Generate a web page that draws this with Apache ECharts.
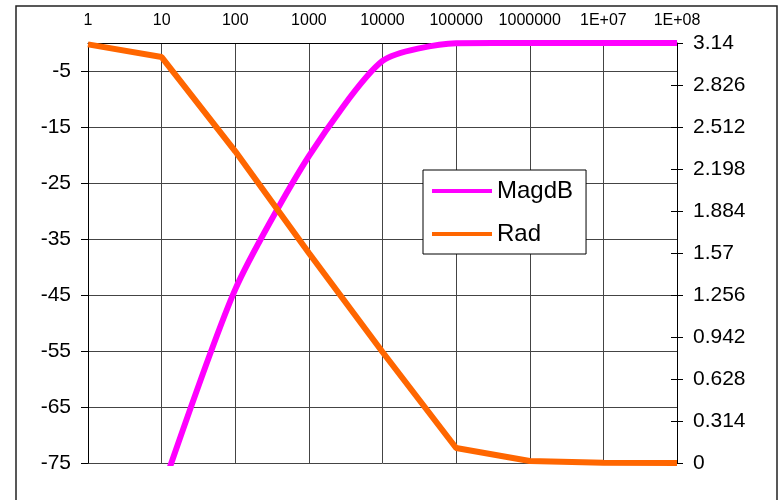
<!DOCTYPE html>
<html>
<head>
<meta charset="utf-8">
<script src="https://cdn.jsdelivr.net/npm/echarts@6/dist/echarts.min.js"></script>
<style>
html,body{margin:0;padding:0;background:#fff;}
#chart{width:783px;height:500px;}
</style>
</head>
<body>
<div id="chart"></div>
<script>
// ---- data ----
var frequencies = [1, 10, 100, 1000, 10000, 100000, 1000000, 10000000, 100000000];
var xTickLabels = ['1', '10', '100', '1000', '10000', '100000', '1000000', '1E+07', '1E+08'];
var magdB = [-120, -80, -44, -20.2, -3.2, -0.05, 0, 0, 0];
var rad = [3.13, 3.035, 2.33, 1.57, 0.83, 0.112, 0.015, 0.0015, 0];
var seriesNames = ['MagdB', 'Rad'];

var FONT = '"Liberation Sans", Arial, sans-serif';
var chart = echarts.init(document.getElementById('chart'), null, {renderer: 'canvas'});

function pairs(xs, ys) {
  return xs.map(function (x, i) { return [x, ys[i]]; });
}

var option = {
  backgroundColor: '#ffffff',
  animation: false,
  grid: {left: 88, top: 43, right: 106, bottom: 37, containLabel: false},
  graphic: [{
    type: 'rect', z: -10, silent: true,
    shape: {x: 16, y: 6, width: 761, height: 520},
    style: {fill: 'none', stroke: '#222', lineWidth: 1.5}
  }],
  legend: {
    orient: 'vertical',
    left: 423, top: 170,
    backgroundColor: '#ffffff',
    borderColor: '#000', borderWidth: 1,
    padding: [9, 13, 8, 9],
    itemGap: 19,
    itemWidth: 60, itemHeight: 4,
    icon: 'rect',
    textStyle: {fontFamily: FONT, fontSize: 24, color: '#000', lineHeight: 24},
    data: seriesNames
  },
  xAxis: {
    type: 'log', logBase: 10, min: 1, max: 100000000, interval: 1,
    position: 'top',
    axisLine: {show: true, onZero: false, lineStyle: {color: '#000', width: 1}},
    axisTick: {show: false},
    splitLine: {show: true, lineStyle: {color: '#444', width: 1}},
    axisLabel: {
      fontFamily: FONT, fontSize: 16, color: '#000', margin: 14,
      formatter: function (v) {
        var k = Math.round(Math.log10(v));
        return xTickLabels[k] !== undefined ? xTickLabels[k] : '';
      }
    }
  },
  yAxis: [{
    type: 'value', min: -75, max: 0, interval: 10, position: 'left',
    axisLine: {show: true, onZero: false, lineStyle: {color: '#000', width: 1}},
    axisTick: {show: true, length: 7, lineStyle: {color: '#000'}},
    splitLine: {show: true, lineStyle: {color: '#444', width: 1}},
    axisLabel: {fontFamily: FONT, fontSize: 21, color: '#000', margin: 17, showMaxLabel: false}
  }, {
    type: 'value', min: 0, max: 3.14, interval: 0.314, position: 'right',
    axisLine: {show: true, onZero: false, lineStyle: {color: '#000', width: 1}},
    axisTick: {show: true, length: 6, lineStyle: {color: '#000'}},
    splitLine: {show: false},
    axisLabel: {fontFamily: FONT, fontSize: 21, color: '#000', margin: 16}
  }, {
    type: 'value', min: 0, max: 3.14, interval: 0.314, position: 'right',
    axisLine: {show: false},
    axisTick: {show: true, inside: true, length: 6, lineStyle: {color: '#000'}},
    splitLine: {show: false},
    axisLabel: {show: false}
  }],
  series: [{
    name: seriesNames[0], type: 'line', yAxisIndex: 0,
    data: pairs(frequencies, magdB),
    smooth: 0.22, showSymbol: false, symbol: 'none', clip: true,
    lineStyle: {color: '#FF00FF', width: 6},
    itemStyle: {color: '#FF00FF'}
  }, {
    name: seriesNames[1], type: 'line', yAxisIndex: 1,
    data: pairs(frequencies, rad),
    smooth: false, showSymbol: false, symbol: 'none', clip: false,
    lineStyle: {color: '#FF6600', width: 6},
    itemStyle: {color: '#FF6600'}
  }]
};
chart.setOption(option);
</script>
</body>
</html>
